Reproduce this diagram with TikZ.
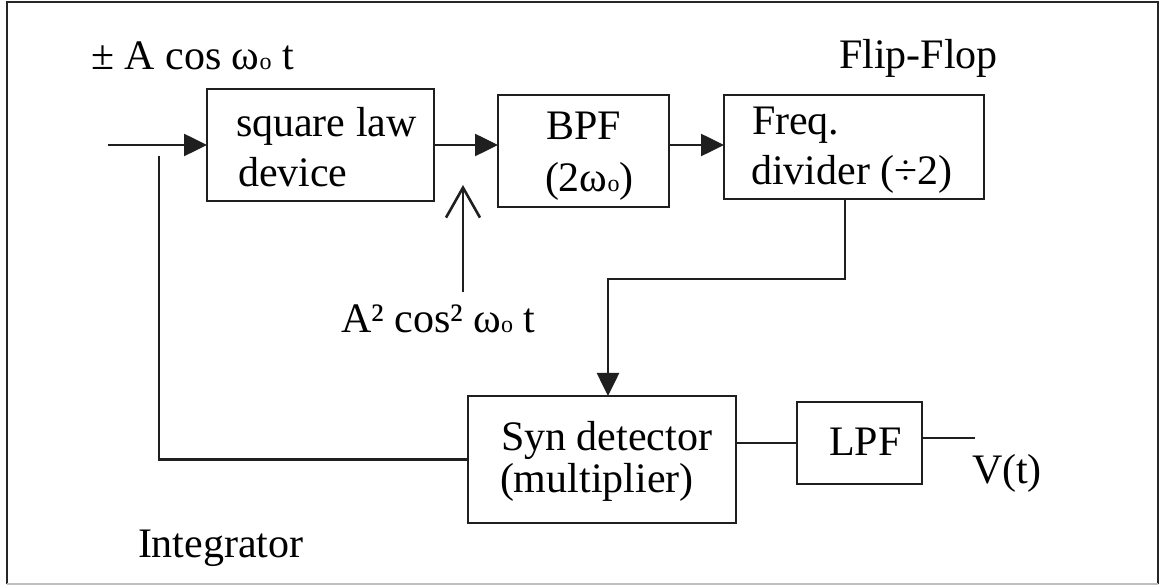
\documentclass[tikz,border=0pt]{standalone}
\usepackage{fontspec}
\setmainfont{Liberation Serif}
\usetikzlibrary{arrows.meta,calc}
\newcommand{\wo}{ω{\fontsize{24}{24}\selectfont o}}
\tikzset{
  txt/.style={font=\fontsize{42}{50}\selectfont, inner sep=0pt, outer sep=0pt, anchor=base west},
  blockbox/.style={draw=black!88, line width=2.6pt, inner sep=0pt, outer sep=0pt},
  wire/.style={draw=black!88, line width=2.6pt},
  arr/.style={wire, -{Triangle[length=23pt,width=22pt]}},
  openarr/.style={wire, -{Straight Barb[length=30pt,width=34pt]}},
  frameline/.style={draw=black!85, line width=2.8pt},
  baseline/.style={draw=black!25, line width=2pt}
}
\begin{document}
\begin{tikzpicture}[x=1pt,y=-1pt]
\useasboundingbox (0,0) rectangle (1160,585);

% outer frame
\draw[frameline] (7,584) -- (7,2) -- (1158,2) -- (1158,584);
\draw[baseline] (7,584) -- (1158,584);

% blocks
\node[blockbox, minimum width=227pt, minimum height=112pt] (sq)   at (320.5,145) {};
\node[blockbox, minimum width=171pt, minimum height=112pt] (bpf)  at (583.5,151) {};
\node[blockbox, minimum width=260pt, minimum height=104pt] (freq) at (854,147) {};
\node[blockbox, minimum width=268pt, minimum height=127pt] (syn)  at (602,459.5) {};
\node[blockbox, minimum width=125pt, minimum height=82pt]  (lpf)  at (859.5,443) {};

% block texts
\node[txt] (sqA)   at (236,137) {square law};
\node[txt] (sqB)   at (238,187) {device};
\node[txt] (bpfA)  at (546,140) {BPF};
\node[txt] (bpfB)  at (545,192) {(2\wo)};
\node[txt] (freqA) at (752,135) {Freq.};
\node[txt] (freqB) at (751,185) {divider (÷2)};
\node[txt] (synA)  at (501,450) {Syn detector};
\node[txt] (synB)  at (500,492) {(multiplier)};
\node[txt] (lpfA)  at (829,455) {LPF};

% free labels
\node[txt] (inlab)  at (91,70)   {± A cos \wo\ t};
\node[txt] (fflab)  at (839,69)  {Flip-Flop};
\node[txt] (sqlab)  at (341,333) {A² cos² \wo\ t};
\node[txt] (intlab) at (138,557) {Integrator};
\node[txt] (vlab)   at (972,483) {V(t)};

% free connector ends
\coordinate (in)   at (108,145);
\coordinate (fb)   at (159,156);
\coordinate (sqin) at (463,292);
\coordinate (mix)  at (463,185);
\coordinate (out)  at (975,438);

% signal path
\draw[arr] (in) -- (sq.west |- in);
\draw[arr] (sq.east |- in) -- (bpf.west |- in);
\draw[arr] (bpf.east |- in) -- (freq.west |- in);
\draw[openarr] (sqin) -- (mix);
\draw[arr] ([xshift=-9pt]freq.south) -- ++(0,80) -| ([xshift=6pt]syn.north);
\draw[wire] (syn.west) -| (fb);
\draw[wire] (lpf.west -| syn.east) -- (lpf.west);
\draw[wire] (lpf.east |- out) -- (out);
\end{tikzpicture}
\end{document}
